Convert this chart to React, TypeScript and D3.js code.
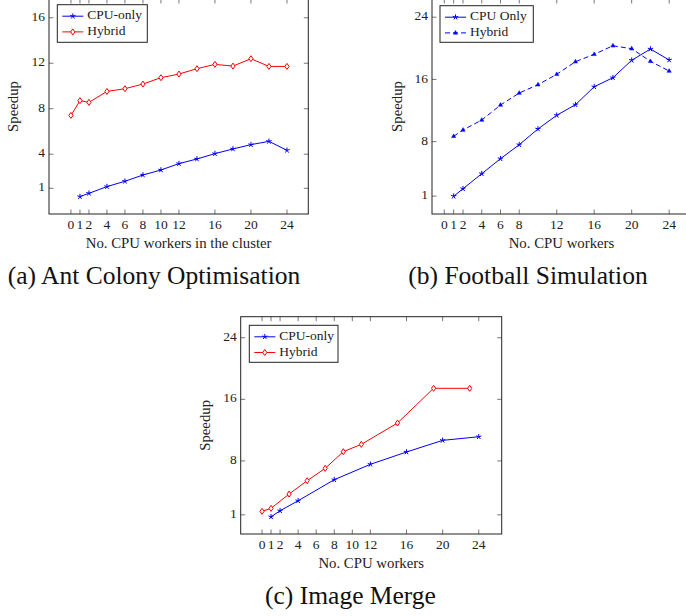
import React, { useEffect, useRef } from 'react';
import * as d3 from 'd3';

// (a) Ant Colony Optimisation
const acoWorkersCpu = [1, 2, 4, 6, 8, 10, 12, 14, 16, 18, 20, 22, 24];
const acoCpuOnly = [0.27, 0.56, 1.15, 1.62, 2.17, 2.61, 3.17, 3.58, 4.05, 4.46, 4.84, 5.13, 4.34];
const acoWorkersHybrid = [0, 1, 2, 4, 6, 8, 10, 12, 14, 16, 18, 20, 22, 24];
const acoHybrid = [7.41, 8.71, 8.56, 9.52, 9.76, 10.17, 10.73, 11.05, 11.52, 11.9, 11.75, 12.4, 11.72, 11.72];
const acoXTicks = [0, 1, 2, 4, 6, 8, 10, 12, 16, 20, 24];
const acoYTicks = [1, 4, 8, 12, 16];

// (b) Football Simulation
const footballWorkers = [1, 2, 4, 6, 8, 10, 12, 14, 16, 18, 20, 22, 24];
const footballCpuOnly = [0.98, 1.95, 3.88, 5.81, 7.61, 9.63, 11.39, 12.75, 15.06, 16.22, 18.46, 19.91, 18.5];
const footballHybrid = [8.69, 9.5, 10.78, 12.71, 14.25, 15.32, 16.66, 18.28, 19.23, 20.33, 19.95, 18.33, 17.08];
const footballXTicks = [0, 1, 2, 4, 6, 8, 12, 16, 20, 24];
const footballYTicks = [1, 8, 16, 24];

// (c) Image Merge
const mergeWorkersCpu = [1, 2, 4, 8, 12, 16, 20, 24];
const mergeCpuOnly = [0.75, 1.53, 2.83, 5.56, 7.56, 9.16, 10.67, 11.14];
const mergeWorkersHybrid = [0, 1, 3, 5, 7, 9, 11, 15, 19, 23];
const mergeHybrid = [1.45, 1.84, 3.7, 5.43, 7.04, 9.2, 10.15, 12.92, 17.43, 17.43];
const mergeXTicks = [0, 1, 2, 4, 6, 8, 10, 12, 16, 20, 24];
const mergeYTicks = [1, 8, 16, 24];

const FONT = "'Liberation Serif'";

type Series = { name: string; xs: number[]; ys: number[]; color: string; mark: string; dash?: string };

type PanelCfg = {
  left: number; right: number; top: number; bottom: number;
  xDomain: [number, number]; yDomain: [number, number];
  xTicks: number[]; yTicks: number[];
  xLabel: string; yLabelX: number;
  series: Series[];
  legend: { x: number; y: number; w: number; h: number };
  caption: string; capX: number; capY: number;
};

const drawMark = (g: any, kind: string, color: string) => {
  if (kind === 'star') {
    for (let k = 0; k < 5; k++) {
      const a = (-90 + k * 72) * Math.PI / 180;
      g.append('line').attr('x1', 0).attr('y1', 0)
        .attr('x2', 2.8 * Math.cos(a)).attr('y2', 2.8 * Math.sin(a))
        .attr('stroke', color).attr('stroke-width', 1);
    }
  } else if (kind === 'diamond') {
    g.append('path').attr('d', 'M0,-3L2.1,0L0,3L-2.1,0Z')
      .attr('fill', 'white').attr('stroke', color).attr('stroke-width', 1);
  } else {
    g.append('path').attr('d', 'M0,-2.4L2.1,1.3L-2.1,1.3Z')
      .attr('fill', color).attr('stroke', color).attr('stroke-width', 0.5);
  }
};

const txt = (g: any, size: number) =>
  g.append('text').attr('font-family', FONT).attr('font-size', size).attr('fill', '#222');

const drawPanel = (svg: any, c: PanelCfg) => {
  const x = d3.scaleLinear().domain(c.xDomain).range([c.left, c.right]);
  const y = d3.scaleLinear().domain(c.yDomain).range([c.bottom, c.top]);
  const g = svg.append('g');

  // inward ticks on all four sides
  const tick = 4.5;
  c.xTicks.forEach(t => {
    g.append('line').attr('x1', x(t)).attr('x2', x(t)).attr('y1', c.bottom).attr('y2', c.bottom - tick)
      .attr('stroke', '#555').attr('stroke-width', 0.8);
    g.append('line').attr('x1', x(t)).attr('x2', x(t)).attr('y1', c.top).attr('y2', c.top + tick)
      .attr('stroke', '#555').attr('stroke-width', 0.8);
    txt(g, 13.5).attr('x', x(t)).attr('y', c.bottom + 12).attr('text-anchor', 'middle')
      .attr('dominant-baseline', 'middle').text(t);
  });
  c.yTicks.forEach(t => {
    g.append('line').attr('x1', c.left).attr('x2', c.left + tick).attr('y1', y(t)).attr('y2', y(t))
      .attr('stroke', '#555').attr('stroke-width', 0.8);
    g.append('line').attr('x1', c.right).attr('x2', c.right - tick).attr('y1', y(t)).attr('y2', y(t))
      .attr('stroke', '#555').attr('stroke-width', 0.8);
    txt(g, 13.5).attr('x', c.left - 4).attr('y', y(t)).attr('text-anchor', 'end')
      .attr('dominant-baseline', 'middle').text(t);
  });
  g.append('rect').attr('x', c.left).attr('y', c.top)
    .attr('width', c.right - c.left).attr('height', c.bottom - c.top)
    .attr('fill', 'none').attr('stroke', '#222').attr('stroke-width', 1);

  const line = d3.line<[number, number]>().x(d => x(d[0])).y(d => y(d[1]));
  c.series.forEach(s => {
    const pts: [number, number][] = s.xs.map((v, i) => [v, s.ys[i]]);
    g.append('path').attr('d', line(pts)).attr('fill', 'none').attr('stroke', s.color)
      .attr('stroke-width', 1).attr('stroke-dasharray', s.dash || null);
    pts.forEach(p => {
      const m = g.append('g').attr('transform', `translate(${x(p[0])},${y(p[1])})`);
      drawMark(m, s.mark, s.color);
    });
  });

  // legend
  const L = c.legend;
  g.append('rect').attr('x', L.x).attr('y', L.y).attr('width', L.w).attr('height', L.h)
    .attr('fill', 'white').attr('stroke', '#222').attr('stroke-width', 1);
  c.series.forEach((s, i) => {
    const ry = L.y + 11.5 + i * 15.7;
    g.append('line').attr('x1', L.x + 5).attr('x2', L.x + 26).attr('y1', ry).attr('y2', ry)
      .attr('stroke', s.color).attr('stroke-width', 1).attr('stroke-dasharray', s.dash || null);
    const m = g.append('g').attr('transform', `translate(${L.x + 15.5},${ry})`);
    drawMark(m, s.mark, s.color);
    txt(g, 13.5).attr('x', L.x + 30).attr('y', ry).attr('dominant-baseline', 'middle').text(s.name);
  });

  // axis labels
  txt(g, 14.8).attr('x', (c.left + c.right) / 2).attr('y', c.bottom + 31)
    .attr('text-anchor', 'middle').attr('dominant-baseline', 'middle').text(c.xLabel);
  const cy = (c.top + c.bottom) / 2;
  txt(g, 14.8).attr('transform', `translate(${c.yLabelX},${cy}) rotate(-90)`)
    .attr('text-anchor', 'middle').attr('dominant-baseline', 'middle').text('Speedup');

  txt(g, 25.5).attr('x', c.capX).attr('y', c.capY).attr('text-anchor', 'middle')
    .attr('dominant-baseline', 'middle').attr('fill', '#111').text(c.caption);
};

const panels: PanelCfg[] = [
  {
    left: 49, right: 308.3, top: -1, bottom: 214,
    xDomain: [-2.44, 26.37], yDomain: [-1.26, 17.65],
    xTicks: acoXTicks, yTicks: acoYTicks,
    xLabel: 'No. CPU workers in the cluster', yLabelX: 15,
    series: [
      { name: 'CPU-only', xs: acoWorkersCpu, ys: acoCpuOnly, color: '#0000ff', mark: 'star' },
      { name: 'Hybrid', xs: acoWorkersHybrid, ys: acoHybrid, color: '#ff0000', mark: 'diamond' },
    ],
    legend: { x: 57.3, y: 4.7, w: 90, h: 37.6 },
    caption: '(a) Ant Colony Optimisation', capX: 154, capY: 278,
  },
  {
    left: 432, right: 691, top: -1, bottom: 214,
    xDomain: [-1.31, 26.33], yDomain: [-1.3, 26.34],
    xTicks: footballXTicks, yTicks: footballYTicks,
    xLabel: 'No. CPU workers', yLabelX: 399,
    series: [
      { name: 'CPU Only', xs: footballWorkers, ys: footballCpuOnly, color: '#0000ff', mark: 'star' },
      { name: 'Hybrid', xs: footballWorkers, ys: footballHybrid, color: '#0000ff', mark: 'triangle', dash: '5,3' },
    ],
    legend: { x: 440, y: 5.7, w: 93.3, h: 36.6 },
    caption: '(b) Football Simulation', capX: 528, capY: 278,
  },
  {
    left: 240.7, right: 501.7, top: 316.7, bottom: 534,
    xDomain: [-2.36, 26.54], yDomain: [-1.49, 26.73],
    xTicks: mergeXTicks, yTicks: mergeYTicks,
    xLabel: 'No. CPU workers', yLabelX: 207,
    series: [
      { name: 'CPU-only', xs: mergeWorkersCpu, ys: mergeCpuOnly, color: '#0000ff', mark: 'star' },
      { name: 'Hybrid', xs: mergeWorkersHybrid, ys: mergeHybrid, color: '#ff0000', mark: 'diamond' },
    ],
    legend: { x: 249.3, y: 325.3, w: 88.7, h: 37 },
    caption: '(c) Image Merge', capX: 350.5, capY: 598,
  },
];

const App = () => {
  const svgRef = useRef<SVGSVGElement>(null);

  useEffect(() => {
    const svg = d3.select(svgRef.current);
    svg.selectAll('*').remove();
    panels.forEach(p => drawPanel(svg, p));
  }, []);

  return (
    <svg ref={svgRef} width={686} height={616}
      style={{ position: 'absolute', left: 0, top: 0, background: 'white' }} />
  );
};

export default App;
